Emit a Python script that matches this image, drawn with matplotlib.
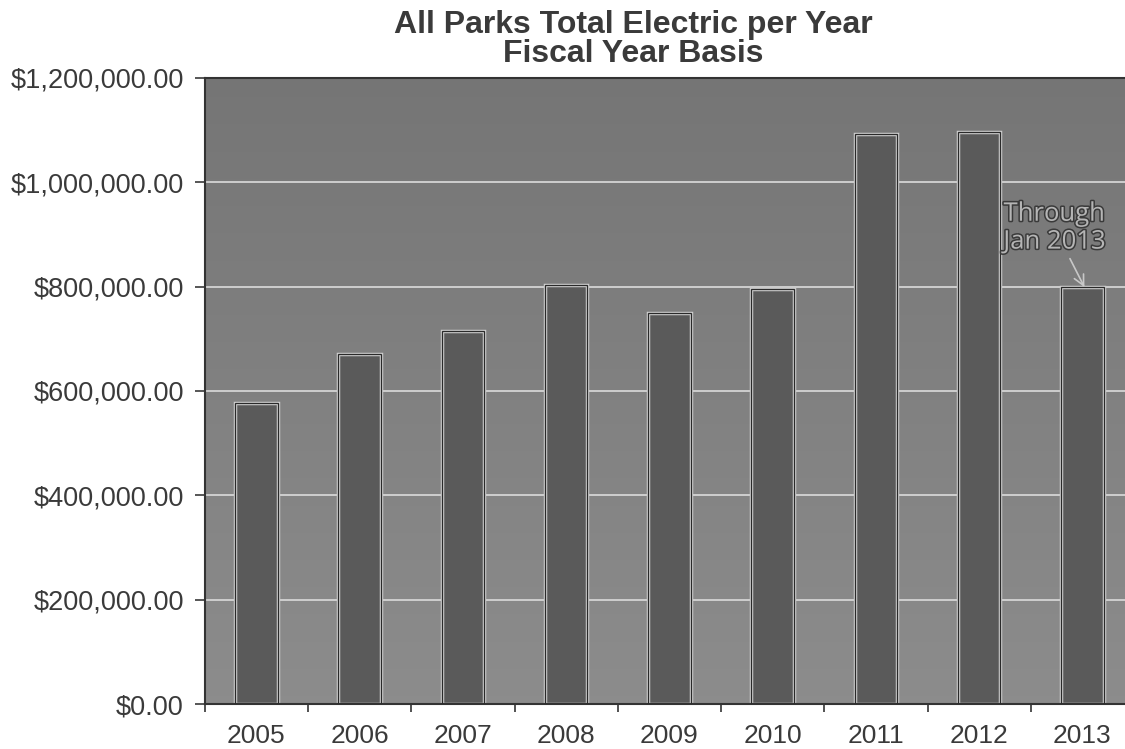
import matplotlib
matplotlib.use("Agg")
import matplotlib.pyplot as plt
import matplotlib.patheffects as pe
import numpy as np

years = ["2005", "2006", "2007", "2008", "2009", "2010", "2011", "2012", "2013"]
electric = [577000, 671000, 715000, 803000, 749000, 795000, 1092000, 1096000, 799000]
y_ticks = [0, 200000, 400000, 600000, 800000, 1000000, 1200000]

plt.rcParams["font.family"] = ["Liberation Sans", "DejaVu Sans"]

fig = plt.figure(figsize=(11.25, 7.49), dpi=100)
ax = fig.add_axes([0.182, 0.060, 0.826, 0.836])

x = np.arange(len(years))

# Shaded plot area: a little darker at the top than at the bottom
shade = np.linspace(0.46, 0.55, 256)
bg = np.dstack([shade, shade, shade]).reshape(256, 1, 3)
ax.imshow(bg, aspect="auto", extent=(-0.5, len(years) - 0.5, 0, 1200000),
          origin="upper", zorder=0)

for yv in y_ticks[1:-1]:
    ax.axhline(yv, color="#d4d4d4", lw=1.3, zorder=1)

ax.bar(x, electric, width=0.41, color="#5a5a5a", edgecolor="#cdcdcd",
       linewidth=2.5, zorder=2)
ax.bar(x, electric, width=0.41, color="none", edgecolor="#2a2a2a",
       linewidth=0.9, zorder=3)

ax.set_xlim(-0.5, len(years) - 0.5)
ax.set_ylim(0, 1200000)
ax.set_yticks(y_ticks)
ax.set_yticklabels(["${:,.2f}".format(v) for v in y_ticks])
ax.set_xticks(x)
ax.set_xticklabels(years)
ax.set_xticks(np.arange(len(years) + 1) - 0.5, minor=True)
ax.tick_params(axis="x", which="major", length=0, pad=14, labelsize=19, colors="#3a3a3a")
ax.tick_params(axis="x", which="minor", length=6, width=1.2, color="#333333")
ax.tick_params(axis="y", length=7, width=1.2, pad=8, labelsize=19.5, colors="#3a3a3a")
for s in ["left", "bottom", "top"]:
    ax.spines[s].set_color("#333333")
    ax.spines[s].set_linewidth(1.5)
ax.spines["right"].set_visible(False)

fig.text(0.563, 0.987, "All Parks Total Electric per Year\nFiscal Year Basis",
         ha="center", va="top", fontsize=23, fontweight="bold", color="#3a3a3a",
         linespacing=0.95)

ax.annotate("Through\nJan 2013", xy=(8.02, electric[8]), xytext=(7.73, 912000),
            ha="center", va="center", fontsize=18.5, family=["Open Sans", "DejaVu Sans"],
            color="#b5b5b5", linespacing=1.15,
            path_effects=[pe.withStroke(linewidth=2.2, foreground="#3a3a3a")],
            arrowprops=dict(arrowstyle="->", color="#c8c8c8", lw=1.2,
                            shrinkA=1, shrinkB=0),
            zorder=5)

fig.savefig("out.png", dpi=100)
